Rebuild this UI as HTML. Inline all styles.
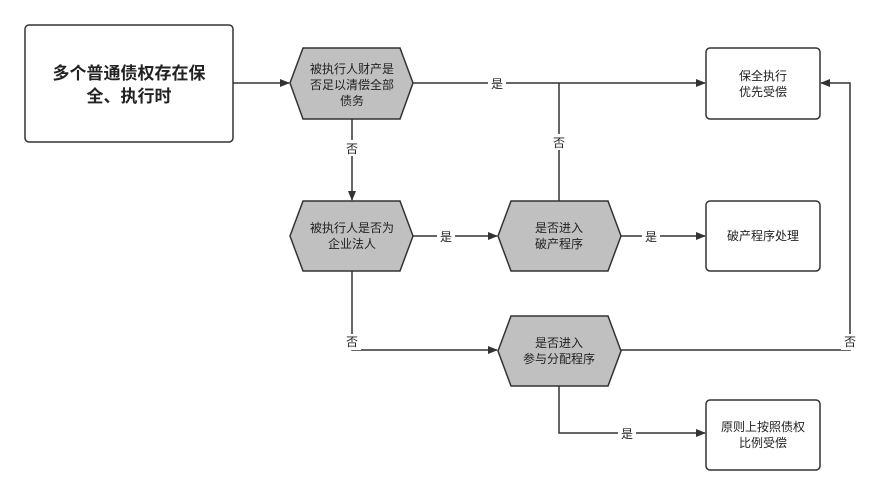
<!DOCTYPE html>
<html><head><meta charset="utf-8"><style>
body{margin:0;background:#fff;}
svg text{font-family:"Liberation Sans","Noto Sans CJK SC",sans-serif;}
</style></head><body>
<svg width="883" height="494" viewBox="0 0 883 494" xmlns="http://www.w3.org/2000/svg">
<defs><marker id="a" markerWidth="10" markerHeight="8" refX="9" refY="4" orient="auto" markerUnits="userSpaceOnUse"><path d="M0,0 L10,4 L0,8 Z" fill="#333"/></marker></defs>
<g stroke="#333" stroke-width="1.5" fill="none">
<line x1="233" y1="83" x2="289" y2="83" marker-end="url(#a)"/>
<line x1="413" y1="83" x2="705" y2="83" marker-end="url(#a)"/>
<line x1="559" y1="201" x2="559" y2="83"/>
<line x1="352" y1="119" x2="352" y2="200" marker-end="url(#a)"/>
<line x1="413" y1="236" x2="497" y2="236" marker-end="url(#a)"/>
<line x1="621" y1="236" x2="705" y2="236" marker-end="url(#a)"/>
<polyline points="352,271 352,350 497,350" marker-end="url(#a)"/>
<polyline points="559,386 559,433 705,433" marker-end="url(#a)"/>
<polyline points="621,350 850,350 850,83 821,83" marker-end="url(#a)"/>
</g>
<g fill="#fff" stroke="#333" stroke-width="1.5">
<rect x="25" y="25" width="208" height="117" rx="4"/>
<rect x="706" y="48" width="114" height="71" rx="4"/>
<rect x="706" y="201" width="114" height="70" rx="4"/>
<rect x="706" y="400" width="114" height="70" rx="4"/>
</g>
<g fill="#c0c0c0" stroke="#333" stroke-width="1.5">
<polygon points="290,83 303,48 400,48 413,83 400,119 303,119"/>
<polygon points="290,236 303,201 400,201 413,236 400,271 303,271"/>
<polygon points="498,236 511,201 608,201 621,236 608,271 511,271"/>
<polygon points="498,351 511,316 608,316 621,351 608,386 511,386"/>
</g>
<g font-size="12" fill="#222" text-anchor="middle">
<text x="129" y="79" font-size="17" font-weight="bold">多个普通债权存在保</text>
<text x="129" y="102" font-size="17" font-weight="bold">全、执行时</text>
<text x="352" y="73">被执行人财产是</text>
<text x="352" y="89">否足以清偿全部</text>
<text x="352" y="105">债务</text>
<text x="352" y="232">被执行人是否为</text>
<text x="352" y="248">企业法人</text>
<text x="559" y="232">是否进入</text>
<text x="559" y="248">破产程序</text>
<text x="559" y="347">是否进入</text>
<text x="559" y="363">参与分配程序</text>
<text x="763" y="80">保全执行</text>
<text x="763" y="96">优先受偿</text>
<text x="763" y="240">破产程序处理</text>
<text x="763" y="431">原则上按照债权</text>
<text x="763" y="447">比例受偿</text>
</g>
<g font-size="12" fill="#222" text-anchor="middle">
<rect x="488" y="75" width="18" height="16" fill="#fff"/><text x="497" y="88">是</text>
<rect x="550" y="134" width="18" height="16" fill="#fff"/><text x="559" y="147">否</text>
<rect x="343" y="140" width="18" height="16" fill="#fff"/><text x="352" y="153">否</text>
<rect x="437" y="228" width="18" height="16" fill="#fff"/><text x="446" y="241">是</text>
<rect x="642" y="228" width="18" height="16" fill="#fff"/><text x="651" y="241">是</text>
<rect x="343" y="334" width="18" height="16" fill="#fff"/><text x="352" y="346">否</text>
<rect x="618" y="425" width="18" height="16" fill="#fff"/><text x="627" y="438">是</text>
<rect x="841" y="334" width="18" height="16" fill="#fff"/><text x="850" y="346">否</text>
</g>
</svg>
</body></html>
